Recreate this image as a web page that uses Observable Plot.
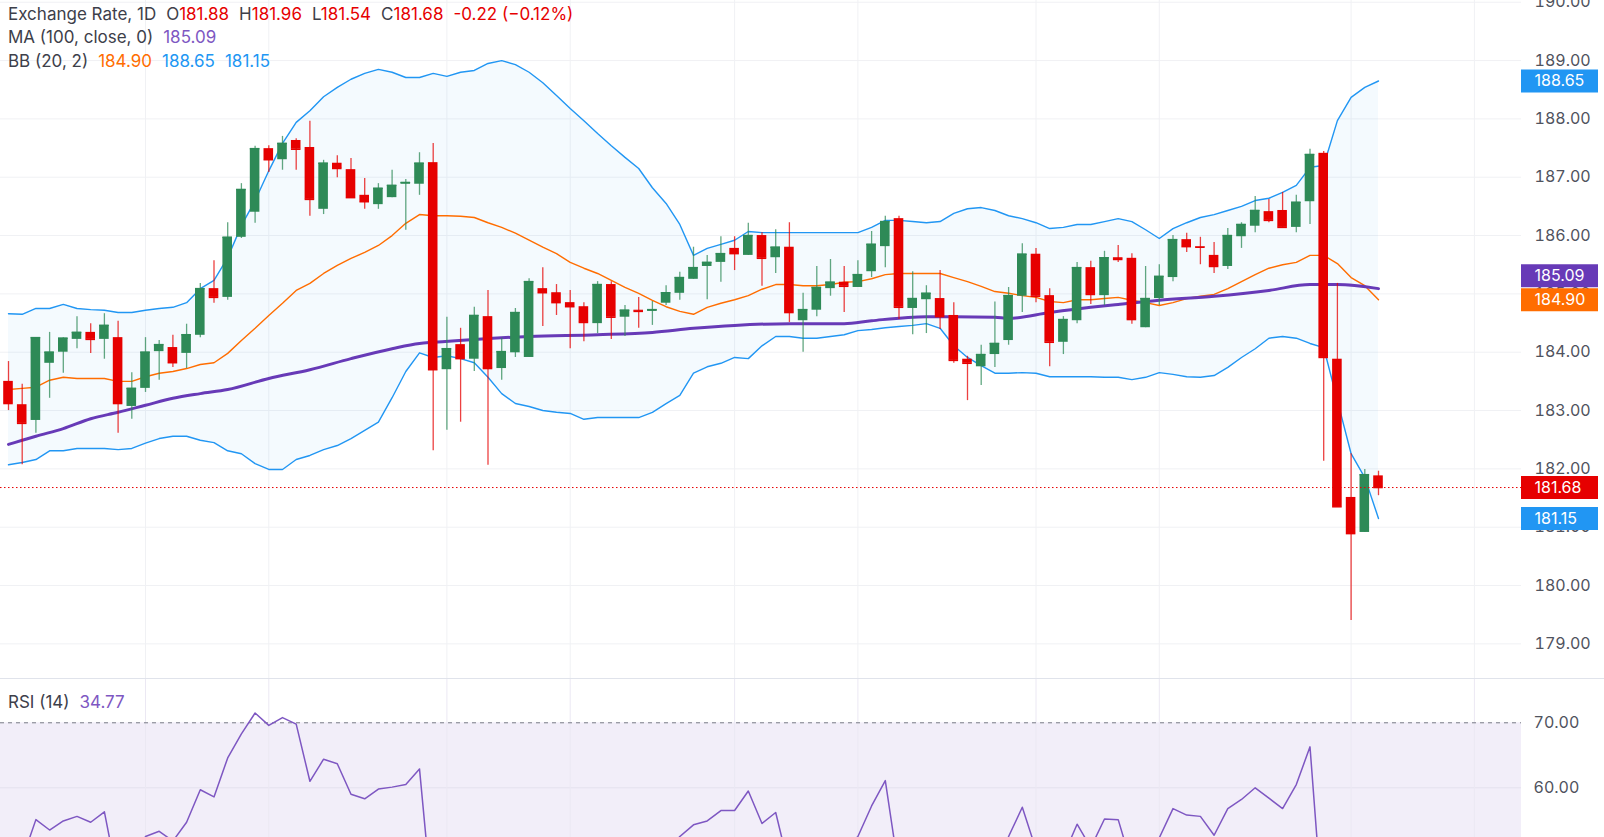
<!DOCTYPE html>
<html><head><meta charset="utf-8">
<script src="https://cdn.jsdelivr.net/npm/d3@7"></script>
<script src="https://cdn.jsdelivr.net/npm/@observablehq/plot@0.6"></script>
<style>
html,body{margin:0;padding:0;background:#fff;overflow:hidden;width:1604px;height:837px;}
body{font-family:Inter,"Noto Sans",sans-serif;position:relative;}
#main{position:absolute;left:0;top:0;}
#rsi{position:absolute;left:0;top:678px;border-top:1px solid #e0e3eb;width:1604px;height:158px;}
.legend{position:absolute;left:8px;font-size:17px;line-height:20px;color:#3d404a;white-space:nowrap;}
.legend span{margin-left:10px}
.legend span.v{margin-left:0}
</style></head><body>
<div id="main"></div><div id="rsi"></div>
<div class="legend" id="l1" style="top:4px"></div>
<div class="legend" id="l2" style="top:27px"></div>
<div class="legend" id="l3" style="top:51px"></div>
<div class="legend" id="l4" style="top:692px"></div>
<script>
// ---------- DATA ----------
const opens = [183.50,183.10,182.83,183.81,184.00,184.22,184.34,184.22,184.25,183.07,
183.38,184.01,184.08,183.98,184.29,185.09,184.94,185.97,186.40,187.49,
187.30,187.63,187.51,186.45,187.24,187.13,186.69,186.53,186.65,186.88,
186.88,187.25,183.70,184.13,183.88,184.61,183.72,183.99,183.91,185.09,
185.02,184.85,184.78,184.49,185.16,184.60,184.72,184.70,184.84,185.01,
185.25,185.47,185.54,185.78,185.66,186.00,185.62,185.80,184.54,184.72,
185.09,185.20,185.11,185.38,185.81,186.29,184.75,184.90,184.92,184.63,
183.88,183.75,183.96,184.20,184.96,185.68,184.97,184.17,184.54,185.45,
184.97,185.62,185.61,184.42,184.92,185.28,185.93,185.81,185.66,185.47,
185.98,186.16,186.41,186.43,186.14,186.58,187.41,183.88,181.51,180.91,
181.88];
const highs = [183.84,183.45,184.25,184.34,184.25,184.61,184.49,184.66,184.53,183.65,
184.25,184.20,184.29,184.48,185.18,185.57,186.22,186.89,187.53,187.54,
187.70,187.66,187.96,187.29,187.37,187.32,186.98,186.89,187.12,186.96,
187.42,187.58,184.60,184.41,184.77,185.06,184.24,184.75,185.26,185.45,
185.16,185.06,184.85,185.21,185.21,184.80,184.94,184.87,185.14,185.37,
185.80,185.66,185.98,185.98,186.21,186.05,186.10,186.22,185.01,185.47,
185.59,185.47,185.57,186.07,186.33,186.33,185.38,185.14,185.40,184.85,
183.93,184.12,184.86,185.11,185.86,185.78,185.09,184.61,185.54,185.56,
185.73,185.83,185.69,185.47,185.50,186.00,186.04,185.97,185.88,186.12,
186.22,186.67,186.62,186.74,186.69,187.48,187.44,185.18,182.26,181.99,
181.96];
const lows = [183.00,182.07,182.61,183.21,183.64,184.06,183.98,183.88,182.61,182.85,
183.31,183.52,183.74,183.72,184.25,184.84,184.89,185.95,186.21,187.08,
187.12,187.12,186.33,186.36,186.99,186.65,186.45,186.45,186.65,186.09,
186.69,182.31,182.66,182.80,183.67,182.06,183.52,183.91,183.91,184.44,
184.63,184.06,184.18,184.32,184.22,184.27,184.41,184.46,184.80,184.89,
185.25,184.90,185.20,185.40,185.66,185.13,185.35,184.51,184.00,184.61,
184.96,184.68,185.11,185.28,185.45,184.56,184.30,184.32,184.39,183.81,
183.17,183.43,183.74,184.12,184.68,184.85,183.75,183.96,184.49,184.82,
184.80,185.54,184.48,184.42,184.80,185.21,185.71,185.50,185.35,185.42,
185.78,186.05,186.22,186.14,186.05,186.19,182.13,181.35,179.40,180.91,
181.54];
const closes = [183.12,182.78,184.25,184.00,184.24,184.34,184.22,184.46,183.12,183.38,
184.00,184.13,183.82,184.30,185.09,184.94,185.97,186.79,187.49,187.30,
187.58,187.48,186.62,187.24,187.15,186.65,186.58,186.81,186.86,186.91,
187.24,183.70,184.06,183.89,184.63,183.72,184.01,184.68,185.21,185.02,
184.85,184.78,184.51,185.16,184.60,184.72,184.70,184.73,185.02,185.28,
185.45,185.54,185.69,185.69,186.00,185.61,185.80,184.68,184.73,185.11,
185.20,185.13,185.33,185.85,186.24,184.77,184.92,185.01,184.61,183.86,
183.81,183.96,184.15,184.97,185.68,184.96,184.17,184.56,185.45,184.99,
185.62,185.59,184.56,184.92,185.30,185.93,185.81,185.80,185.47,186.00,
186.19,186.43,186.26,186.14,186.57,187.39,183.91,181.35,180.89,181.90,
181.68];
const bbUpper = [184.66,184.65,184.75,184.75,184.82,184.75,184.73,184.72,184.68,184.68,
184.72,184.75,184.77,184.85,185.09,185.23,185.62,186.17,186.60,187.11,
187.58,187.94,188.14,188.38,188.54,188.68,188.78,188.85,188.80,188.71,
188.71,188.78,188.73,188.80,188.83,188.95,189.00,188.93,188.80,188.62,
188.40,188.18,187.97,187.75,187.54,187.34,187.15,186.82,186.55,186.19,
185.66,185.78,185.85,185.92,186.07,186.05,186.05,186.05,186.05,186.05,
186.05,186.05,186.05,186.14,186.26,186.26,186.24,186.22,186.24,186.38,
186.46,186.48,186.43,186.34,186.29,186.22,186.12,186.14,186.19,186.19,
186.24,186.29,186.24,186.10,185.95,186.12,186.22,186.31,186.36,186.43,
186.50,186.60,186.64,186.74,186.86,187.17,187.20,187.97,188.37,188.54,
188.65];
const bbBasis = [183.36,183.38,183.40,183.52,183.57,183.55,183.55,183.55,183.50,183.50,
183.58,183.64,183.67,183.72,183.79,183.82,183.98,184.20,184.41,184.63,
184.84,185.06,185.18,185.35,185.49,185.61,185.71,185.83,186.00,186.21,
186.36,186.34,186.34,186.33,186.31,186.22,186.14,186.04,185.92,185.80,
185.69,185.54,185.44,185.35,185.23,185.11,185.01,184.89,184.78,184.70,
184.65,184.77,184.84,184.90,184.97,185.08,185.16,185.16,185.14,185.14,
185.16,185.20,185.21,185.26,185.33,185.35,185.35,185.35,185.35,185.28,
185.21,185.13,185.04,185.01,184.97,184.94,184.87,184.85,184.90,184.90,
184.92,184.94,184.89,184.85,184.80,184.85,184.92,184.96,184.99,185.09,
185.21,185.33,185.44,185.50,185.54,185.66,185.66,185.52,185.28,185.14,
184.90];
const bbLower = [182.07,182.11,182.16,182.31,182.31,182.35,182.35,182.35,182.33,182.35,
182.44,182.52,182.56,182.56,182.49,182.45,182.31,182.26,182.09,181.99,
181.99,182.16,182.23,182.33,182.40,182.52,182.66,182.80,183.22,183.67,
183.99,183.91,183.94,183.89,183.82,183.57,183.29,183.12,183.07,183.00,
182.97,182.95,182.85,182.88,182.88,182.88,182.88,182.97,183.12,183.26,
183.64,183.75,183.81,183.91,183.89,184.11,184.27,184.27,184.24,184.24,
184.27,184.30,184.37,184.39,184.42,184.44,184.46,184.49,184.41,184.11,
183.91,183.77,183.64,183.64,183.65,183.64,183.58,183.58,183.58,183.58,
183.57,183.57,183.53,183.57,183.65,183.62,183.58,183.57,183.60,183.74,
183.91,184.06,184.24,184.27,184.24,184.15,184.08,183.17,182.26,181.85,
181.15];
const maIdx = [0,1,2,4,6,8,10,12,14,16,19,22,25,28,30,31,34,38,43,47,50,53,57,61,63,67,69,72,73,76,79,81,84,88,92,95,97,100];
const maVal = [182.42,182.49,182.56,182.69,182.86,182.97,183.09,183.21,183.29,183.36,183.55,183.70,183.89,184.06,184.15,184.17,184.22,184.27,184.30,184.34,184.41,184.46,184.49,184.49,184.54,184.61,184.61,184.60,184.58,184.68,184.77,184.82,184.89,184.96,185.06,185.16,185.16,185.09];
const rsi = [47.0,49.0,55.1,53.5,54.9,55.6,54.7,56.3,45.5,47.5,
52.5,53.3,51.8,54.7,59.7,58.6,64.6,68.3,71.5,69.6,
70.8,69.8,61.0,64.4,63.7,59.0,58.3,59.8,60.1,60.5,
62.9,40.5,42.5,41.8,45.5,42.0,44.0,46.5,50.5,49.8,
48.9,48.5,47.0,50.5,47.8,48.5,48.4,48.6,50.0,52.5,
54.3,54.9,56.5,56.5,59.5,54.5,56.2,47.5,48.5,50.5,
51.0,50.6,52.5,57.2,61.1,47.0,48.0,48.6,46.5,42.5,
42.2,43.5,44.8,52.5,57.0,50.5,46.8,49.5,54.4,50.8,
55.2,55.1,48.0,50.0,52.3,56.8,55.8,55.6,52.7,56.8,
58.2,60.0,58.4,56.8,60.5,66.3,38.5,30.5,28.0,36.0,
34.77];
const rsiLevels = [30, 70];
const gridIdx = [10,19,32,41,53,62,75,84,98,107];
const yTicks = [179,180,181,182,183,184,185,186,187,188,189,190];
const rsiTicks = [60,70];

// ---------- styling / layout ----------
const GREEN = "#2e8a57", RED = "#e60000", BLUE = "#2196f3", ORANGE = "#ff6d00", PURPLE = "#673ab7", RSIC = "#7e57c2";
const GRID = "#f0f1f4", AXIS = "#50535e";
const W = 1604, MR = 83, PX = 13.7, X0 = 8;
const plotW = W - MR;
const xDomain = [-X0 / PX, (plotW - X0) / PX];
const xEnd = xDomain[1], boxW = 77 / PX;
const fmt = d3.format(".2f");

const n = closes.length;
const candles = d3.range(n).map(i => ({i, o: opens[i], h: highs[i], l: lows[i], c: closes[i], col: closes[i] >= opens[i] ? GREEN : RED}));
const bands = d3.range(n).map(i => ({i, hi: bbUpper[i], mid: bbBasis[i], lo: bbLower[i]}));
const ma = maIdx.map((i, k) => ({i, v: maVal[k]}));
const rsiRows = rsi.map((v, i) => ({i, v}));

const last = n - 1;
const labels = [
  {v: bbUpper[last], color: BLUE, dy: 0},
  {v: maVal[maVal.length - 1], color: PURPLE, dy: -13},
  {v: bbBasis[last], color: ORANGE, dy: 0},
  {v: closes[last], color: RED, dy: 0},
  {v: bbLower[last], color: BLUE, dy: 0}
];
const labelMarks = labels.flatMap(L => [
  Plot.ruleY([L.v], {x1: xEnd, x2: xEnd + boxW, stroke: L.color, strokeWidth: 23, dy: L.dy}),
  Plot.text([L.v], {x: xEnd, y: d => d, text: d => fmt(d), dx: 13, dy: L.dy, textAnchor: "start", fill: "white", fontSize: 16})
]);

const main = Plot.plot({
  width: W, height: 678,
  marginLeft: 0, marginRight: MR, marginTop: 0, marginBottom: 0,
  style: {fontFamily: "Inter, 'Noto Sans', sans-serif", fontSize: "16px", color: AXIS, background: "transparent", overflow: "visible"},
  x: {domain: xDomain, axis: null},
  y: {domain: [178.406, 190.03], axis: null},
  marks: [
    Plot.ruleY(yTicks, {stroke: GRID}),
    Plot.ruleX(gridIdx, {stroke: GRID}),
    Plot.areaY(bands, {x: "i", y1: "lo", y2: "hi", fill: BLUE, fillOpacity: 0.05}),
    Plot.line(bands, {x: "i", y: "hi", stroke: BLUE, strokeWidth: 1.4}),
    Plot.line(bands, {x: "i", y: "lo", stroke: BLUE, strokeWidth: 1.4}),
    Plot.line(bands, {x: "i", y: "mid", stroke: ORANGE, strokeWidth: 1.4}),
    Plot.line(ma, {x: "i", y: "v", stroke: PURPLE, strokeWidth: 3, curve: "monotone-x"}),
    Plot.ruleX(candles, {x: "i", y1: "l", y2: "h", stroke: "col", strokeWidth: 1.3, strokeOpacity: 0.75}),
    Plot.rect(candles, {x1: d => d.i - 0.35, x2: d => d.i + 0.35, y1: "o", y2: "c", fill: "col"}),
    Plot.ruleY(candles, {y: "c", x1: d => d.i - 0.35, x2: d => d.i + 0.35, stroke: "col", strokeWidth: 1.5}),
    Plot.ruleY([closes[last]], {stroke: RED, strokeWidth: 1, strokeDasharray: "1.5,2.5"}),
    Plot.axisY({ticks: yTicks, anchor: "right", label: null, tickSize: 0, tickPadding: 13, tickFormat: fmt, fill: AXIS, fontSize: 16}),
    ...labelMarks
  ]
});
document.getElementById("main").appendChild(main);

const rsiPlot = Plot.plot({
  width: W, height: 158,
  marginLeft: 0, marginRight: MR, marginTop: 0, marginBottom: 0,
  style: {fontFamily: "Inter, 'Noto Sans', sans-serif", fontSize: "16px", color: AXIS, background: "transparent"},
  x: {domain: xDomain, axis: null},
  y: {domain: [52.35, 76.66], axis: null},
  marks: [
    Plot.rect([rsiLevels], {x1: xDomain[0], x2: xDomain[1], y1: d => d[0], y2: d => d[1], fill: RSIC, fillOpacity: 0.1, clip: true}),
    Plot.ruleY([60], {stroke: "#e4e1ee"}),
    Plot.ruleX(gridIdx, {stroke: "#ebe8f3"}),
    Plot.ruleY([rsiLevels[1]], {stroke: "#787b86", strokeDasharray: "4,4"}),
    Plot.line(rsiRows, {x: "i", y: "v", stroke: RSIC, strokeWidth: 1.5, clip: true}),
    Plot.axisY({ticks: rsiTicks, anchor: "right", label: null, tickSize: 0, tickPadding: 12, tickFormat: fmt, fill: AXIS, fontSize: 16})
  ]
});
document.getElementById("rsi").appendChild(rsiPlot);

// ---------- legends built from the data ----------
const chg = closes[last] - closes[last - 1];
const pct = chg / closes[last - 1] * 100;
const sgn = v => (v < 0 ? "\u2212" : "+") + Math.abs(v).toFixed(2);
const red = t => `<span class="v" style="color:${RED}">${t}</span>`;
document.getElementById("l1").innerHTML =
  `Exchange Rate, 1D<span>O</span>${red(fmt(opens[last]))}<span>H</span>${red(fmt(highs[last]))}<span>L</span>${red(fmt(lows[last]))}<span>C</span>${red(fmt(closes[last]))}<span style="color:${RED}">${(chg < 0 ? "-" : "+") + Math.abs(chg).toFixed(2)} (${sgn(pct)}%)</span>`;
document.getElementById("l2").innerHTML =
  `MA (100, close, 0)<span style="color:${RSIC}">${fmt(maVal[maVal.length - 1])}</span>`;
document.getElementById("l3").innerHTML =
  `BB (20, 2)<span style="color:${ORANGE}">${fmt(bbBasis[last])}</span><span style="color:${BLUE}">${fmt(bbUpper[last])}</span><span style="color:${BLUE}">${fmt(bbLower[last])}</span>`;
document.getElementById("l4").innerHTML =
  `RSI (14)<span style="color:${RSIC}">${fmt(rsi[last])}</span>`;
</script>
</body></html>
